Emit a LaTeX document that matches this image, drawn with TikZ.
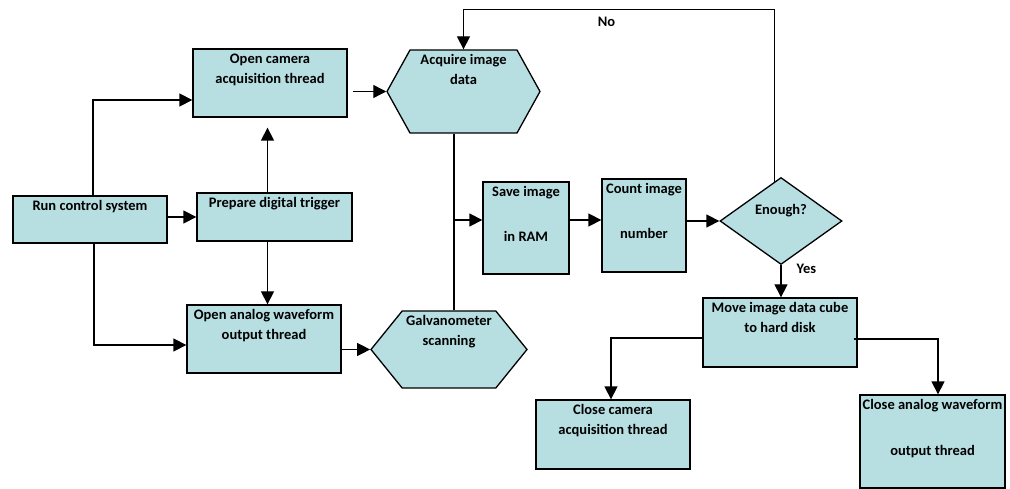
\documentclass[tikz,border=0pt]{standalone}
\usepackage{fontspec}
\setmainfont{Carlito}
\usetikzlibrary{calc, arrows.meta, shapes.geometric, shapes.symbols}
\definecolor{BoxBlue}{HTML}{B7DEE1}

\tikzset{
    box/.style={draw=black, line width=1.3pt, fill=BoxBlue, inner sep=0pt},
    txt/.style={anchor=north, align=center, inner sep=5pt, font=\bfseries\fontsize{14.5}{20}\selectfont},
    boxtext/.style={label={[txt]north:{#1}}},
    hexa/.style={box, shape=signal, signal to=east and west},
    lbl/.style={font=\bfseries\fontsize{14.5}{20}\selectfont, inner sep=1pt},
    arr/.style={line width=1.3pt, -{Triangle[length=13pt, width=13pt]}}
}

\begin{document}
\begin{tikzpicture}[x=1pt, y=1pt]
    \useasboundingbox (0,0) rectangle (1010,-489);

    \node[box, minimum width=154pt, minimum height=47pt, boxtext={Run control system}] (run) at (90,-219.5) {};
    \node[box, minimum width=155pt, minimum height=48pt, boxtext={Prepare digital trigger}] (prep) at (274.5,-217) {};
    \node[box, minimum width=154pt, minimum height=68pt, boxtext={Open camera\\acquisition thread}] (ocam) at (270,-83) {};
    \node[box, minimum width=154pt, minimum height=68pt, boxtext={Open analog waveform\\output thread}] (analog) at (264,-339) {};
    \node[hexa, signal pointer angle=122, minimum width=153pt, minimum height=83pt, boxtext={Acquire image\\data}] (acq) at (463.5,-91.5) {};
    \node[hexa, signal pointer angle=102, minimum width=156pt, minimum height=77pt, boxtext={Galvanometer\\scanning}] (galvo) at (449,-349.5) {};
    \node[box, minimum width=86pt, minimum height=92pt, boxtext={Save image\\[25pt]in RAM}] (save) at (526,-228) {};
    \node[box, minimum width=84pt, minimum height=93pt, boxtext={Count image\\[25pt]number}] (count) at (644,-225.5) {};
    \node[box, shape=diamond, minimum width=122pt, minimum height=87pt,
          label={[txt, yshift=-22pt]north:Enough?}] (enough) at (781,-221) {};
    \node[box, minimum width=154pt, minimum height=69pt, boxtext={Move image data cube\\to hard disk}] (move) at (780,-332.5) {};
    \node[box, minimum width=154pt, minimum height=69pt, boxtext={Close camera\\acquisition thread}] (ccam) at (613,-434.5) {};
    \node[box, minimum width=145pt, minimum height=93pt, boxtext={Close analog waveform\\[26pt]output thread}] (canalog) at (932.5,-441.5) {};

    \coordinate (split) at (454,-220);

    \draw[arr] ([xshift=3pt]run.north) |- ([yshift=-17pt]ocam.west);
    \draw[arr] (run.east |- prep.west) -- (prep.west);
    \draw[arr] ([xshift=4pt]run.south) |- ([yshift=-6pt]analog.west);
    \draw[arr, shorten >=10pt] ([xshift=-7pt]prep.north) -- ([xshift=-7pt]prep.north |- ocam.south);
    \draw[arr] ([xshift=-7pt]prep.south) -- ([xshift=-7pt]prep.south |- analog.north);
    \draw[arr, shorten <=5pt] (ocam.east |- acq.west) -- (acq.west);
    \draw[arr] (analog.east |- galvo.west) -- (galvo.west);
    \draw[line width=1.3pt] (acq.south -| split) -- (galvo.north -| split);
    \draw[arr] (split) -- (split -| save.west);
    \draw[arr] (save.east |- split) -- (count.west |- split);
    \draw[arr] (count.east |- enough.west) -- (enough.west);
    \draw[arr] ($(enough.north)!0.11!(enough.west)$) |- ([yshift=40pt]acq.north)
        node[lbl, pos=0.77, below=6pt] (no) {No} -- (acq.north);
    \draw[arr] (enough.south) -- (enough.south |- move.north)
        node[lbl, pos=0.12, right=14pt] (yes) {Yes};
    \draw[arr] ([yshift=-5.5pt]move.west) -| ([xshift=-2pt]ccam.north);
    \draw[arr] ([xshift=-4pt, yshift=-6.5pt]move.east) -| ([xshift=5.5pt]canalog.north);
\end{tikzpicture}
\end{document}
